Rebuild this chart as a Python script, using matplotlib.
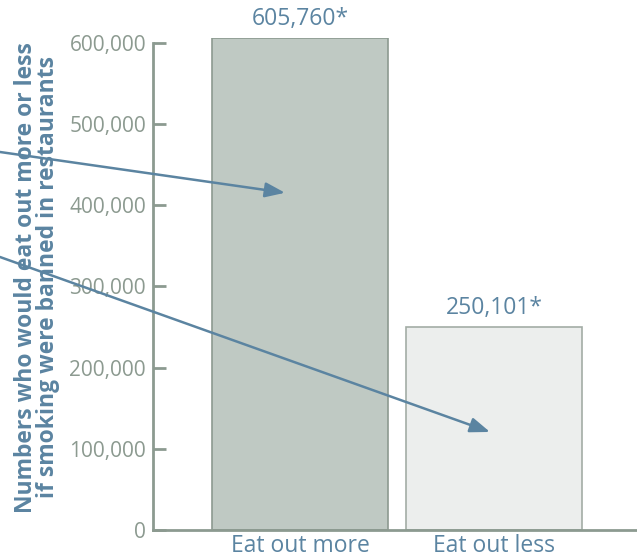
import matplotlib
matplotlib.use("Agg")
import matplotlib.pyplot as plt

categories = ["Eat out more", "Eat out less"]
values = [605760, 250101]
value_labels = ["605,760*", "250,101*"]
yticks = [0, 100000, 200000, 300000, 400000, 500000, 600000]
ytick_labels = ["0", "100,000", "200,000", "300,000", "400,000", "500,000", "600,000"]

grey = "#8c9a90"
blue = "#5b84a1"

plt.rcParams["font.family"] = ["Open Sans", "DejaVu Sans"]

fig = plt.figure(figsize=(6.37, 5.6), dpi=100)
ax = fig.add_axes([153 / 637, 30 / 560, 484 / 637, 492 / 560])

x = range(len(categories))
ax.bar(x, values, width=0.905, color=["#bfc9c3", "#eceeed"],
       edgecolor=["#8c9a90", "#a3ada6"], linewidth=1.2, zorder=2)

for xi, v, lab in zip(x, values, value_labels):
    ax.annotate(lab, (xi, v), xytext=(0, 5), textcoords="offset points",
                ha="center", va="bottom", fontsize=16.5, color=blue)

ax.set_xlim(-0.756, 1.733)
ax.set_ylim(0, 605760)
ax.set_yticks(yticks)
ax.set_yticklabels(ytick_labels)
ax.set_xticks(list(x))
ax.set_xticklabels(categories)

for s in ["top", "right"]:
    ax.spines[s].set_visible(False)
for s in ["left", "bottom"]:
    ax.spines[s].set_color(grey)
    ax.spines[s].set_linewidth(2)
ax.spines["left"].set_bounds(0, 600000)

ax.tick_params(axis="y", direction="in", length=9, width=2, color=grey,
               labelcolor=grey, labelsize=15, pad=5)
ax.tick_params(axis="x", length=0, labelcolor=blue, labelsize=16.5, pad=3)

fig.text(0.058, 0.505, "Numbers who would eat out more or less\nif smoking were banned in restaurants",
         rotation=90, ha="center", va="center", fontsize=16.5, fontweight="bold",
         color=blue, linespacing=0.9)

# pointer arrows coming in from the left edge
arrow = dict(arrowstyle="-|>,head_length=1.2,head_width=0.45", color=blue, lw=1.8,
             shrinkA=0, shrinkB=0)
ax.annotate("", xy=(-0.077, 415200), xycoords="data",
            xytext=(0, 1 - 152 / 560), textcoords="figure fraction",
            arrowprops=arrow, zorder=5, annotation_clip=False)
ax.annotate("", xy=(0.977, 120700), xycoords="data",
            xytext=(0, 1 - 257 / 560), textcoords="figure fraction",
            arrowprops=arrow, zorder=5, annotation_clip=False)

fig.savefig("out.png", dpi=100)
